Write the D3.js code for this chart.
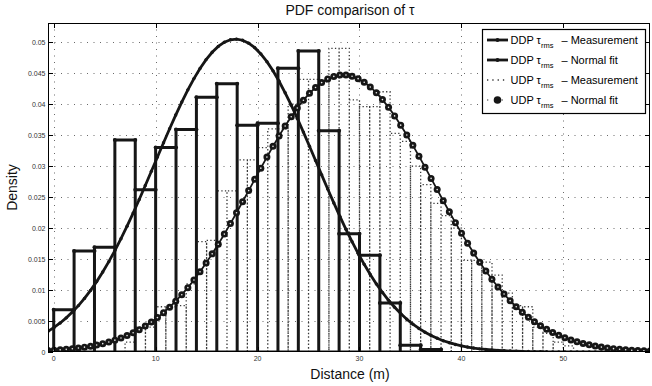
<!DOCTYPE html>
<html><head><meta charset="utf-8">
<script src="https://cdn.jsdelivr.net/npm/d3@7"></script>
<style>body{margin:0;background:#fff}svg{display:block;font-family:"Liberation Sans",Arial,Helvetica,sans-serif}</style>
</head><body><svg id="c" width="652" height="386"></svg>
<script>
// ---------- data ----------
const ddpBinEdges = [0,2,4,6,8,10,12,14,16,18,20,22,24,26,28,30,32,34,36,38];
const ddpDensity  = [0.0068,0.0163,0.0169,0.0342,0.0262,0.0330,0.0359,0.0411,0.0433,0.0366,0.0369,0.0458,0.0486,0.0357,0.0191,0.0156,0.0079,0.0011,0.0004];

const udpBinEdges = [7,8,9,10,11,12,13,14,15,16,17,18,19,20,21,22,23,24,25,26,27,28,29,30,31,32,33,34,35,36,37,38,39,40,41,42,43,44,45,46,47,48,49,50,51];
const udpDensity  = [0.0016,0.0040,0.0040,0.0073,0.0073,0.0075,0.0110,0.0178,0.0180,0.0260,0.0260,0.0310,0.0310,0.0330,0.0360,0.0360,0.0400,0.0440,0.0440,0.0436,0.0490,0.0490,0.0407,0.0396,0.0396,0.0420,0.0353,0.0340,0.0300,0.0270,0.0240,0.0220,0.0200,0.0148,0.0148,0.0145,0.0124,0.0095,0.0075,0.0073,0.0040,0.0030,0.0016,0.0010];

const fitX = [-0.560,0.037,0.633,1.230,1.826,2.423,3.019,3.616,4.213,4.809,5.406,6.002,6.599,7.195,7.792,8.389,8.985,9.582,10.178,10.775,
11.371,11.968,12.565,13.161,13.758,14.354,14.951,15.547,16.144,16.740,17.337,17.934,18.530,19.127,19.723,20.320,20.917,21.513,22.110,22.706,
23.303,23.899,24.496,25.093,25.689,26.286,26.882,27.479,28.075,28.672,29.269,29.865,30.462,31.058,31.655,32.251,32.848,33.445,34.041,34.638,
35.234,35.831,36.427,37.024,37.621,38.217,38.814,39.410,40.007,40.603,41.200,41.797,42.393,42.990,43.586,44.183,44.779,45.376,45.973,46.569,
47.166,47.762,48.359,48.955,49.552,50.149,50.745,51.342,51.938,52.535,53.131,53.728,54.325,54.921,55.518,56.114,56.711,57.307,57.904,58.500];

const ddpFit = [0.00333,0.00396,0.00468,0.00551,0.00644,0.00749,0.00865,0.00994,0.01136,0.01290,
0.01458,0.01637,0.01829,0.02030,0.02242,0.02462,0.02687,0.02917,0.03148,0.03378,
0.03604,0.03824,0.04034,0.04231,0.04413,0.04576,0.04719,0.04838,0.04932,0.05000,
0.05039,0.05050,0.05032,0.04985,0.04912,0.04811,0.04686,0.04538,0.04370,0.04184,
0.03983,0.03770,0.03549,0.03321,0.03091,0.02859,0.02631,0.02406,0.02189,0.01980,
0.01780,0.01592,0.01415,0.01251,0.01099,0.00961,0.00835,0.00722,0.00620,0.00529,
0.00450,0.00380,0.00319,0.00266,0.00221,0.00182,0.00150,0.00122,0.00099,0.00080,
0.00064,0.00051,0.00041,0.00032,0.00025,0.00020,0.00015,0.00012,0.00009,0.00007,
0.00005,0.00004,0.00003,0.00002,0.00001,0.00001,0.00001,0,0,0,
0,0,0,0,0,0,0,0,0,0];

const udpFit = [0.00023,0.00028,0.00035,0.00043,0.00053,0.00064,0.00078,0.00094,0.00113,0.00135,
0.00161,0.00191,0.00226,0.00265,0.00310,0.00361,0.00419,0.00483,0.00555,0.00635,
0.00723,0.00820,0.00925,0.01039,0.01163,0.01294,0.01435,0.01584,0.01740,0.01903,
0.02072,0.02247,0.02425,0.02605,0.02787,0.02967,0.03146,0.03319,0.03488,0.03648,
0.03798,0.03938,0.04064,0.04175,0.04270,0.04348,0.04408,0.04448,0.04469,0.04470,
0.04451,0.04412,0.04354,0.04278,0.04184,0.04074,0.03949,0.03811,0.03661,0.03502,
0.03335,0.03161,0.02983,0.02802,0.02621,0.02441,0.02262,0.02088,0.01918,0.01754,
0.01597,0.01448,0.01307,0.01174,0.01050,0.00935,0.00829,0.00731,0.00642,0.00562,
0.00489,0.00424,0.00366,0.00314,0.00269,0.00229,0.00194,0.00164,0.00138,0.00115,
0.00096,0.00079,0.00065,0.00054,0.00044,0.00036,0.00029,0.00023,0.00019,0.00015];

const xTicks = [0,10,20,30,40,50];
const yTicks = [0,0.005,0.01,0.015,0.02,0.025,0.03,0.035,0.04,0.045,0.05];
const yTickLabels = ["0","0.005","0.01","0.015","0.02","0.025","0.03","0.035","0.04","0.045","0.05"];
const xDomain = [-0.56, 58.5];
const yDomain = [0, 0.0531];
const titleText = "PDF comparison of \u03C4";
const xLabel = "Distance (m)";
const yLabel = "Density";
const legendPrefix = ["DDP \u03C4","DDP \u03C4","UDP \u03C4","UDP \u03C4"];
const legendSuffix = ["\u2013  Measurement","\u2013 Normal fit","\u2013 Measurement","\u2013 Normal fit"];

// ---------- drawing ----------
const svg = d3.select("#c");
const L = 48, R = 650, T = 23, B = 352;
const x = d3.scaleLinear().domain(xDomain).range([L, R]);
const y = d3.scaleLinear().domain(yDomain).range([B, T]);
const ink = "#161616";

svg.append("rect").attr("width",652).attr("height",386).attr("fill","#fff");

// grid
const grid = svg.append("g").attr("stroke","#6a6a6a").attr("stroke-width",1).attr("stroke-dasharray","1,5.5");
grid.selectAll(".gx").data(xTicks).enter().append("line")
  .attr("x1",d=>Math.round(x(d))+0.5).attr("x2",d=>Math.round(x(d))+0.5).attr("y1",T).attr("y2",B);
grid.selectAll(".gy").data(yTicks.slice(1)).enter().append("line")
  .attr("y1",d=>Math.round(y(d))+0.5).attr("y2",d=>Math.round(y(d))+0.5).attr("x1",L).attr("x2",R);

const g = svg.append("g");
g.append("clipPath").attr("id","clip").append("rect").attr("x",L).attr("y",T-6).attr("width",R-L).attr("height",B-T+6);
const plot = g.append("g").attr("clip-path","url(#clip)");

function barPath(edges, vals){
  let p = "";
  vals.forEach((v,i)=>{
    const x0 = x(edges[i]), x1 = x(edges[i+1]);
    p += `M${x0},${y(0)}V${y(v)}H${x1}V${y(0)}`;
  });
  return p;
}

// UDP measurement (dotted histogram)
plot.append("path").attr("d", barPath(udpBinEdges, udpDensity))
  .attr("fill","none").attr("stroke","#3a3a3a").attr("stroke-width",1.3).attr("stroke-dasharray","1.3,2.3");

// DDP measurement (thick histogram)
plot.append("path").attr("d", barPath(ddpBinEdges, ddpDensity))
  .attr("fill","none").attr("stroke",ink).attr("stroke-width",3).attr("stroke-linejoin","miter");
plot.append("line").attr("x1",x(ddpBinEdges[0])).attr("x2",x(ddpBinEdges[ddpBinEdges.length-1]))
  .attr("y1",y(0)).attr("y2",y(0)).attr("stroke",ink).attr("stroke-width",3);
const corners = [];
ddpDensity.forEach((v,i)=>{ corners.push([ddpBinEdges[i],v]); corners.push([ddpBinEdges[i+1],v]); });
plot.selectAll(".cn").data(corners).enter().append("circle")
  .attr("cx",d=>x(d[0])).attr("cy",d=>y(d[1])).attr("r",2).attr("fill",ink);

// DDP normal fit
const ddpPts = fitX.map((v,i)=>[v, ddpFit[i]]);
plot.append("path").datum(ddpPts).attr("d", d3.line().x(d=>x(d[0])).y(d=>y(d[1])))
  .attr("fill","none").attr("stroke",ink).attr("stroke-width",2.8);
plot.selectAll(".dd").data(ddpPts).enter().append("circle")
  .attr("cx",d=>x(d[0])).attr("cy",d=>y(d[1])).attr("r",1.7).attr("fill",ink);

// UDP normal fit
const udpPts = fitX.map((v,i)=>[v, udpFit[i]]);
plot.append("path").datum(udpPts).attr("d", d3.line().x(d=>x(d[0])).y(d=>y(d[1])))
  .attr("fill","none").attr("stroke",ink).attr("stroke-width",1.8);
plot.selectAll(".ud").data(udpPts).enter().append("circle")
  .attr("cx",d=>x(d[0])).attr("cy",d=>y(d[1])).attr("r",3.5).attr("fill",ink);
plot.selectAll(".uh").data(udpPts).enter().append("circle")
  .attr("cx",d=>x(d[0])).attr("cy",d=>y(d[1])).attr("r",0.8).attr("fill","#eee");

// frame
svg.append("rect").attr("x",L+0.5).attr("y",T+0.5).attr("width",R-L-1).attr("height",B-T-1)
  .attr("fill","none").attr("stroke","#000").attr("stroke-width",1);

// ticks (inward, all sides)
const tk = svg.append("g").attr("stroke","#000").attr("stroke-width",1);
xTicks.forEach(d=>{
  const xx = Math.round(x(d))+0.5;
  tk.append("line").attr("x1",xx).attr("x2",xx).attr("y1",B).attr("y2",B-5);
  tk.append("line").attr("x1",xx).attr("x2",xx).attr("y1",T).attr("y2",T+5);
});
yTicks.forEach(d=>{
  const yy = Math.round(y(d))+0.5;
  tk.append("line").attr("y1",yy).attr("y2",yy).attr("x1",L).attr("x2",L+5);
  tk.append("line").attr("y1",yy).attr("y2",yy).attr("x1",R).attr("x2",R-5);
});

// tick labels
svg.selectAll(".xl").data(xTicks).enter().append("text")
  .attr("x",d=>x(d)).attr("y",B+9).attr("text-anchor","middle")
  .attr("font-size",7).attr("fill","#333").text(d=>d);
svg.selectAll(".yl").data(yTicks).enter().append("text")
  .attr("x",L-2.5).attr("y",d=>y(d)+2.5).attr("text-anchor","end")
  .attr("font-size",7).attr("fill","#333").text((d,i)=>yTickLabels[i]);

// title & axis labels
svg.append("text").attr("x",350).attr("y",15).attr("text-anchor","middle").attr("font-size",14).attr("fill","#111").text(titleText);
svg.append("text").attr("x",350).attr("y",379).attr("text-anchor","middle").attr("font-size",14).attr("fill","#111").text(xLabel);
svg.append("text").attr("transform","translate(17,187.5) rotate(-90)").attr("text-anchor","middle").attr("font-size",14).attr("fill","#111").text(yLabel);

// legend
const lg = svg.append("g");
lg.append("rect").attr("x",482.5).attr("y",29.5).attr("width",163).attr("height",84)
  .attr("fill","#fff").attr("stroke","#000").attr("stroke-width",1.2);
legendPrefix.forEach((p,i)=>{
  const by = 43.5 + i*20, ly = by - 3.5;
  const s = lg.append("g");
  if (i < 2){
    s.append("line").attr("x1",487).attr("x2",508).attr("y1",ly).attr("y2",ly).attr("stroke",ink).attr("stroke-width",2.8);
    s.append("circle").attr("cx",497.5).attr("cy",ly).attr("r",2).attr("fill",ink);
  } else if (i === 2){
    s.append("line").attr("x1",487).attr("x2",508).attr("y1",ly).attr("y2",ly).attr("stroke","#333").attr("stroke-width",1.4).attr("stroke-dasharray","1.3,4");
  } else {
    s.append("line").attr("x1",487).attr("x2",508).attr("y1",ly).attr("y2",ly).attr("stroke","#333").attr("stroke-width",1.2).attr("stroke-dasharray","1.3,6");
    s.append("circle").attr("cx",497.5).attr("cy",ly).attr("r",3.8).attr("fill",ink);
  }
  const t = lg.append("text").attr("x",510.5).attr("y",by).attr("font-size",11).attr("fill","#000");
  t.append("tspan").text(p);
  t.append("tspan").attr("dy",4.5).attr("font-size",7.5).text("rms");
  t.append("tspan").attr("x",561.5).attr("dy",-4.5).text(legendSuffix[i]);
});
</script>
</body></html>
